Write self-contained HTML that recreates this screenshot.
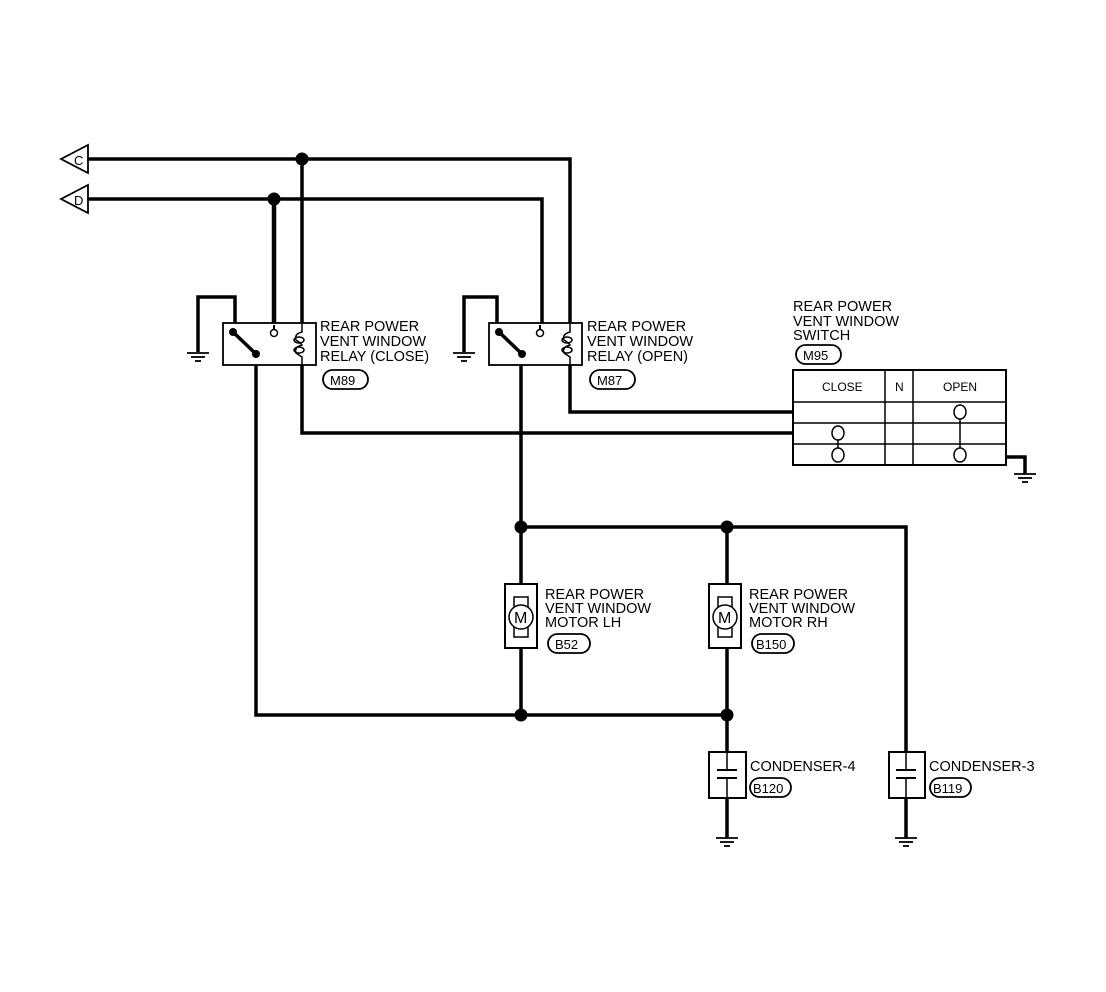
<!DOCTYPE html>
<html><head><meta charset="utf-8"><style>
html,body{margin:0;padding:0;background:#fff;}
svg{display:block;}
text{font-family:"Liberation Sans",sans-serif;font-size:14.5px;fill:#000;}
</style></head><body>
<svg width="1106" height="992" viewBox="0 0 1106 992" xmlns="http://www.w3.org/2000/svg">
<g fill="none" stroke="#000" stroke-width="3.5">
<polyline points="86,159 570,159 570,325"/>
<polyline points="570,365 570,412 793,412"/>
<line x1="302" y1="159" x2="302" y2="325"/>
<polyline points="302,365 302,433 793,433"/>
<polyline points="86,199 542,199 542,330"/>
<line x1="274" y1="199" x2="274" y2="328" stroke-width="4.5"/>
<polyline points="198,352 198,297 235,297 235,330"/>
<polyline points="256,354 256,715 727,715"/>
<polyline points="464,352 464,297 497,297 497,330"/>
<line x1="521" y1="354" x2="521" y2="715"/>
<polyline points="521,527 906,527 906,752"/>
<line x1="727" y1="527" x2="727" y2="752"/>
<line x1="727" y1="798" x2="727" y2="838"/>
<line x1="906" y1="798" x2="906" y2="838"/>
<polyline points="1006,457 1025,457 1025,474"/>
</g>
<g fill="#fff" stroke="#000" stroke-width="1.8">
<polygon points="61,159 88,145 88,173"/>
<polygon points="61,199 88,185 88,213"/>
</g>
<text x="74" y="165" style="font-size:13px">C</text>
<text x="74" y="205" style="font-size:13px">D</text>
<g fill="#000">
<circle cx="302" cy="159" r="6.5"/><circle cx="274" cy="199" r="6.5"/>
<circle cx="521" cy="527" r="6.5"/><circle cx="727" cy="527" r="6.5"/>
<circle cx="521" cy="715" r="6.5"/><circle cx="727" cy="715" r="6.5"/>
</g>
<g fill="#fff" stroke="#000" stroke-width="1.8">
<rect x="223" y="323" width="93" height="42"/>
<rect x="489" y="323" width="93" height="42"/>
</g>
<g stroke="#000" fill="none" stroke-width="2">
<line x1="233" y1="332" x2="256" y2="354" stroke-width="3.5"/>
<line x1="499" y1="332" x2="522" y2="354" stroke-width="3.5"/>
<line x1="274" y1="325" x2="274" y2="330"/>
<line x1="540" y1="325" x2="540" y2="330"/>
<circle cx="274" cy="333" r="3.5" fill="#fff" stroke-width="1.5"/>
<circle cx="540" cy="333" r="3.5" fill="#fff" stroke-width="1.5"/>
<path d="M302,324 L302,332 Q294,334 296,340 Q302,344 302,345 Q294,347 296,353 L302,357 L302,366" stroke-width="1.5"/>
<ellipse cx="299" cy="340" rx="5" ry="3" stroke-width="1.5"/>
<ellipse cx="299" cy="350" rx="5" ry="3" stroke-width="1.5"/>
<path d="M570,324 L570,332 Q562,334 564,340 Q570,344 570,345 Q562,347 564,353 L570,357 L570,366" stroke-width="1.5"/>
<ellipse cx="567" cy="340" rx="5" ry="3" stroke-width="1.5"/>
<ellipse cx="567" cy="350" rx="5" ry="3" stroke-width="1.5"/>
</g>
<g fill="#000"><circle cx="233" cy="332" r="4"/><circle cx="256" cy="354" r="4"/><circle cx="499" cy="332" r="4"/><circle cx="522" cy="354" r="4"/></g>
<g stroke="#000" stroke-width="1.8">
<line x1="187" y1="353" x2="209" y2="353"/><line x1="191" y1="357" x2="205" y2="357"/><line x1="195" y1="361" x2="201" y2="361"/>
<line x1="453" y1="353" x2="475" y2="353"/><line x1="457" y1="357" x2="471" y2="357"/><line x1="461" y1="361" x2="467" y2="361"/>
<line x1="1014" y1="474" x2="1036" y2="474"/><line x1="1018" y1="478" x2="1032" y2="478"/><line x1="1022" y1="482" x2="1028" y2="482"/>
<line x1="716" y1="838" x2="738" y2="838"/><line x1="720" y1="842" x2="734" y2="842"/><line x1="724" y1="846" x2="730" y2="846"/>
<line x1="895" y1="838" x2="917" y2="838"/><line x1="899" y1="842" x2="913" y2="842"/><line x1="903" y1="846" x2="909" y2="846"/>
</g>
<text x="320" y="331">REAR POWER</text><text x="320" y="346">VENT WINDOW</text><text x="320" y="361">RELAY (CLOSE)</text>
<rect x="323" y="370" width="45" height="19" rx="9.5" fill="none" stroke="#000" stroke-width="1.8"/><text x="330" y="385" style="font-size:13px">M89</text>
<text x="587" y="331">REAR POWER</text><text x="587" y="346">VENT WINDOW</text><text x="587" y="361">RELAY (OPEN)</text>
<rect x="590" y="370" width="45" height="19" rx="9.5" fill="none" stroke="#000" stroke-width="1.8"/><text x="597" y="385" style="font-size:13px">M87</text>
<text x="793" y="311">REAR POWER</text><text x="793" y="326">VENT WINDOW</text><text x="793" y="340">SWITCH</text>
<rect x="796" y="345" width="45" height="19" rx="9.5" fill="none" stroke="#000" stroke-width="1.8"/><text x="803" y="360" style="font-size:13px">M95</text>
<g fill="none" stroke="#000" stroke-width="1.5">
<rect x="793" y="370" width="213" height="95" stroke-width="2"/>
<line x1="793" y1="402" x2="1006" y2="402"/><line x1="793" y1="423" x2="1006" y2="423"/><line x1="793" y1="444" x2="1006" y2="444"/>
<line x1="885" y1="370" x2="885" y2="465"/><line x1="913" y1="370" x2="913" y2="465"/>
<line x1="960" y1="419" x2="960" y2="448"/><line x1="838" y1="440" x2="838" y2="448"/>
<ellipse cx="960" cy="412" rx="6" ry="7" fill="#fff"/><ellipse cx="960" cy="455" rx="6" ry="7" fill="#fff"/>
<ellipse cx="838" cy="433" rx="6" ry="7" fill="#fff"/><ellipse cx="838" cy="455" rx="6" ry="7" fill="#fff"/>
</g>
<text x="822" y="391" style="font-size:12px">CLOSE</text><text x="895" y="391" style="font-size:12px">N</text><text x="943" y="391" style="font-size:12px">OPEN</text>
<g fill="#fff" stroke="#000" stroke-width="2">
<rect x="505" y="584" width="32" height="64"/>
<rect x="709" y="584" width="32" height="64"/>
</g>
<g fill="#fff" stroke="#000" stroke-width="1.5">
<rect x="514" y="597" width="14" height="40"/><circle cx="521" cy="617" r="12"/>
<rect x="718" y="597" width="14" height="40"/><circle cx="725" cy="617" r="12"/>
</g>
<text x="514" y="623" style="font-size:16px">M</text><text x="718" y="623" style="font-size:16px">M</text>
<text x="545" y="599">REAR POWER</text><text x="545" y="613">VENT WINDOW</text><text x="545" y="627">MOTOR LH</text>
<rect x="548" y="634" width="42" height="19" rx="9.5" fill="none" stroke="#000" stroke-width="1.8"/><text x="555" y="649" style="font-size:13px">B52</text>
<text x="749" y="599">REAR POWER</text><text x="749" y="613">VENT WINDOW</text><text x="749" y="627">MOTOR RH</text>
<rect x="752" y="634" width="42" height="19" rx="9.5" fill="none" stroke="#000" stroke-width="1.8"/><text x="756" y="649" style="font-size:13px">B150</text>
<g fill="none" stroke="#000" stroke-width="2">
<rect x="709" y="752" width="37" height="46"/>
<rect x="889" y="752" width="36" height="46"/>
<line x1="727" y1="752" x2="727" y2="770" stroke-width="1.5"/><line x1="727" y1="778" x2="727" y2="798" stroke-width="1.5"/>
<line x1="717" y1="770" x2="737" y2="770"/><line x1="717" y1="778" x2="737" y2="778"/>
<line x1="906" y1="752" x2="906" y2="770" stroke-width="1.5"/><line x1="906" y1="778" x2="906" y2="798" stroke-width="1.5"/>
<line x1="896" y1="770" x2="916" y2="770"/><line x1="896" y1="778" x2="916" y2="778"/>
</g>
<text x="750" y="771">CONDENSER-4</text>
<rect x="750" y="778" width="41" height="19" rx="9.5" fill="none" stroke="#000" stroke-width="1.8"/><text x="753" y="793" style="font-size:13px">B120</text>
<text x="929" y="771">CONDENSER-3</text>
<rect x="930" y="778" width="41" height="19" rx="9.5" fill="none" stroke="#000" stroke-width="1.8"/><text x="933" y="793" style="font-size:13px">B119</text>
</svg>
</body></html>
